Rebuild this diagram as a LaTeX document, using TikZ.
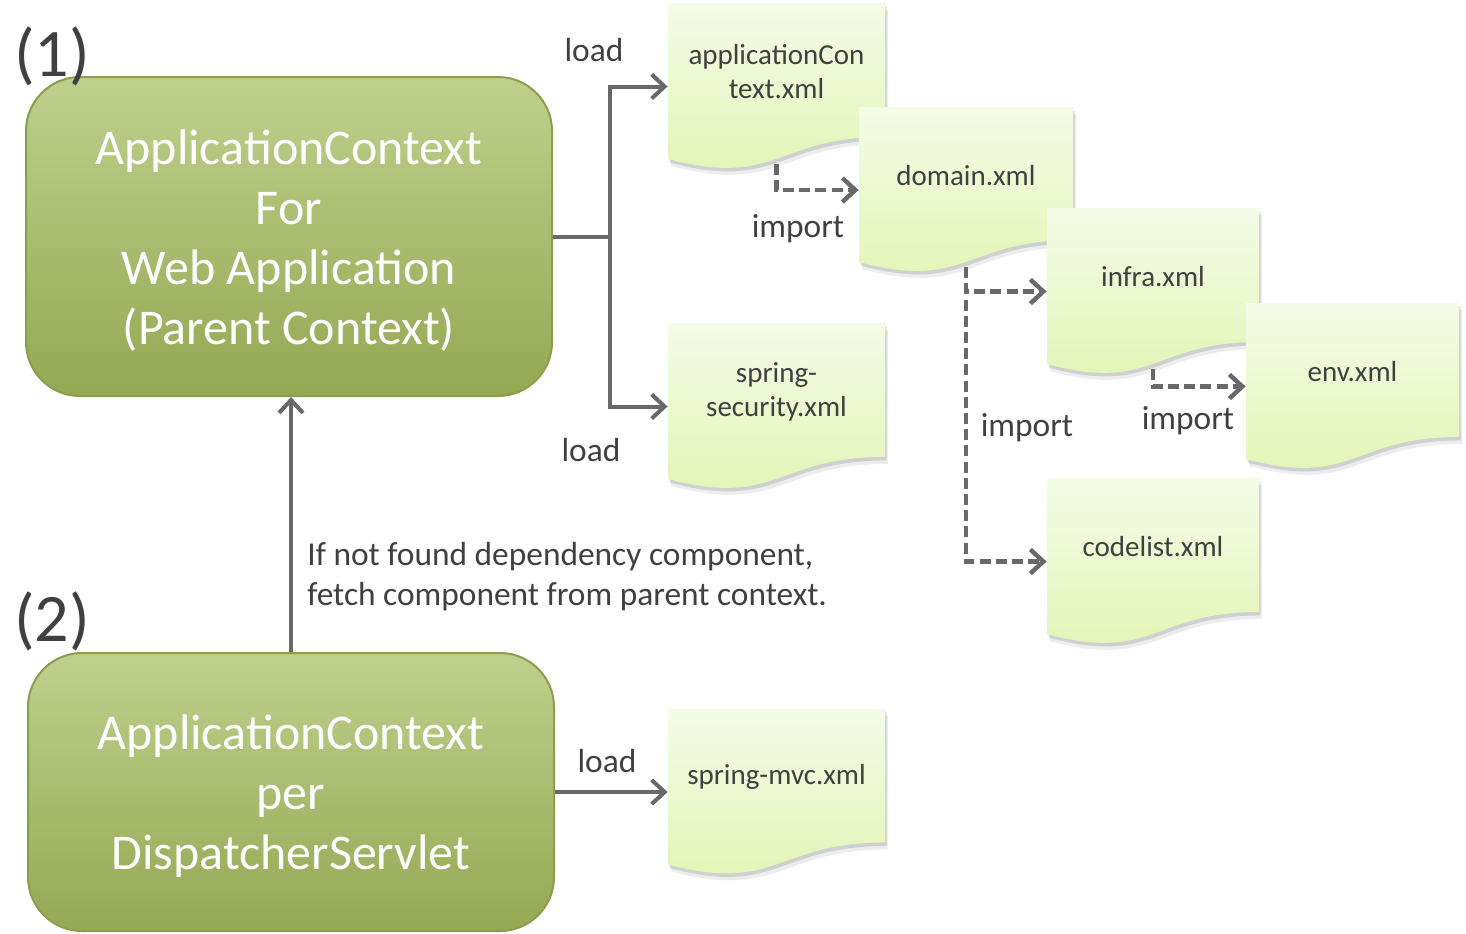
\documentclass[tikz,border=0pt]{standalone}
\usepackage{fontspec}
\setmainfont{Carlito}
\usetikzlibrary{arrows.meta,calc}
\definecolor{lineg}{HTML}{686868}
\definecolor{txtg}{HTML}{404040}
\definecolor{boxtop}{HTML}{BFD08D}
\definecolor{boxbot}{HTML}{95A853}
\definecolor{boxedge}{HTML}{8C9E4C}
\definecolor{doctop}{HTML}{F5FBE8}
\definecolor{docbot}{HTML}{E2F5B3}
\newcommand\xmldoc[6]{% name, left, top, width, height, text
  \begin{scope}[shift={(#2,#3)}]
    \fill[black, opacity=0.07, shift={(3,7)}] (0,0) -- (#4,0) -- (#4,{0.802*#5}) .. controls ({0.5*#4},{0.802*#5}) and ({0.5*#4},{1.1075*#5}) .. (0,{0.934*#5}) -- cycle;
    \fill[black, opacity=0.12, shift={(1.5,3.5)}] (0,0) -- (#4,0) -- (#4,{0.802*#5}) .. controls ({0.5*#4},{0.802*#5}) and ({0.5*#4},{1.1075*#5}) .. (0,{0.934*#5}) -- cycle;
    \shade[top color=doctop, bottom color=docbot] (0,0) -- (#4,0) -- (#4,{0.802*#5}) .. controls ({0.5*#4},{0.802*#5}) and ({0.5*#4},{1.1075*#5}) .. (0,{0.934*#5}) -- cycle;
    \node[docbox, minimum width={#4*0.5pt}, minimum height={#5*0.5pt}] (#1) at ({0.5*#4},{0.5*#5}) {};
    \coordinate (#1-b) at ({0.5*#4},{0.965*#5});
    \node[doctext] (#1-t) at ({0.5*#4},{0.41*#5}) {#6};
  \end{scope}}
\begin{document}
\begin{tikzpicture}[x=0.5pt,y=-0.5pt,
  ctxbox/.style={draw=boxedge, line width=1pt, rounded corners=27pt,
    top color=boxtop, bottom color=boxbot, inner sep=0pt},
  ctxtext/.style={text=white, font=\fontsize{25}{30}\selectfont, align=center, inner sep=0pt},
  docbox/.style={draw=none, inner sep=0pt, rectangle},
  doctext/.style={text=txtg, font=\fontsize{14.5}{17}\selectfont, align=center, inner sep=0pt},
  lbl/.style={text=txtg, font=\fontsize{16.7}{20}\selectfont, inner sep=0pt},
  num/.style={text=txtg, font=\fontsize{34}{38}\selectfont, inner sep=0pt},
  solidarrow/.style={draw=lineg, line width=2pt, -{Straight Barb[length=6.5pt,width=12pt]}},
  solidline/.style={draw=lineg, line width=2pt},
  dasharrow/.style={draw=lineg, line width=2.2pt, dash pattern=on 5.5pt off 2.6pt,
    -{Straight Barb[length=6.5pt,width=12pt]}}]
\useasboundingbox (0,0) rectangle (1466,933);
\fill[white] (0,0) rectangle (1466,933);

% context boxes
\node[ctxbox, minimum width=263pt, minimum height=159.5pt] (box1) at (289,236.5) {};
\node[ctxtext] (box1t) at (289,241) {ApplicationContext\\For\\Web Application\\(Parent Context)};
\node[ctxbox, minimum width=263pt, minimum height=139pt] (box2) at (291,792) {};
\node[ctxtext] (box2t) at (291,796) {ApplicationContext\\per\\DispatcherServlet};

\node[num] (n1) at (52,56) {(1)};
\node[num] (n2) at (52,621) {(2)};

% documents
\xmldoc{app}{668}{3}{217}{167}{applicationCon\\text.xml}
\xmldoc{sec}{668}{323}{217}{167}{spring-\\security.xml}
\xmldoc{mvc}{668}{708.5}{217}{167}{spring-mvc.xml}
\xmldoc{dom}{859}{107}{214}{166}{domain.xml}
\xmldoc{inf}{1047}{208}{212}{167}{infra.xml}
\xmldoc{code}{1047}{478}{212}{167}{codelist.xml}
\xmldoc{env}{1246}{303}{213}{167}{env.xml}

% load connectors
\coordinate (jn) at (610,236.5);
\draw[solidline] (box1.east) -- (jn);
\draw[solidarrow] (jn) |- (app.west);
\draw[solidarrow] (jn) |- (sec.west);
\draw[solidarrow] (box2.east) -- (box2.east -| mvc.west);
\draw[solidarrow] (box2.north) -- (box2.north |- box1.south);

% import connectors
\draw[dasharrow] (app-b) |- (dom.west);
\draw[dasharrow] (dom-b) |- (inf.west);
\draw[dasharrow] (dom-b) |- (code.west);
\draw[dasharrow] (inf-b) |- (env.west);

% labels
\node[lbl] (l1) at (594,50) {load};
\node[lbl] (l2) at (591,450) {load};
\node[lbl] (l3) at (607,761) {load};
\node[lbl] (i1) at (798,229) {import};
\node[lbl] (i2) at (1027,428) {import};
\node[lbl] (i3) at (1188,421) {import};
\node[lbl, anchor=west, align=left] (note) at (307,577) {If not found dependency component,\\fetch component from parent context.};
\end{tikzpicture}
\end{document}
